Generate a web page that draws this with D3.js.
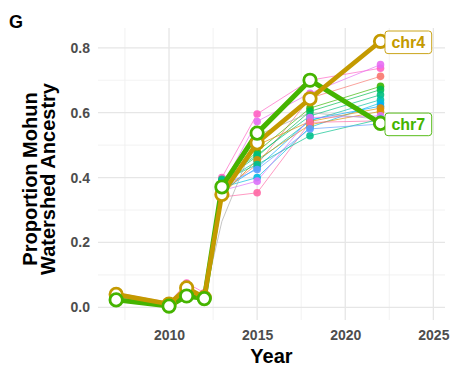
<!DOCTYPE html>
<html lang="en">
<head>
<meta charset="UTF-8">
<script src="https://cdnjs.cloudflare.com/ajax/libs/d3/7.8.5/d3.min.js"></script>
<style>
  body { margin: 0; background: #fff; }
  text { font-family: "Liberation Sans", Arial, Helvetica, sans-serif; }
</style>
</head>
<body>
<div id="chart"></div>
<script>
// sampling years
const years = [2007, 2010, 2011, 2012, 2013, 2015, 2018, 2022];

// highlighted chromosomes
const chr4 = [0.04, 0.01, 0.06, 0.03, 0.348, 0.507, 0.643, 0.82];
const chr7 = [0.023, 0.004, 0.035, 0.027, 0.371, 0.537, 0.70, 0.567];

// the other chromosomes (thin lines)
const otherColors = ['#FF61C3', '#E76BF3', '#F8766D', '#39B600', '#00BB4E', '#00BF7D', '#00C1A3', '#00BAE0',
  '#00A9FF', '#E58700', '#D89000', '#DC71FA', '#FF67A4', '#00C08B', '#619CFF', '#A8A8A8'];
const otherValues = [
  [0.045, 0.015, 0.075, 0.045, 0.40, 0.596, 0.70, 0.737],
  [0.035, 0.008, 0.04, 0.03, 0.37, 0.573, 0.66, 0.748],
  [0.04, 0.012, 0.05, 0.03, 0.36, 0.44, 0.645, 0.712],
  [0.03, 0.005, 0.035, 0.025, 0.38, 0.48, 0.614, 0.681],
  [0.025, 0.006, 0.03, 0.028, 0.39, 0.465, 0.604, 0.671],
  [0.03, 0.01, 0.03, 0.03, 0.395, 0.47, 0.59, 0.655],
  [0.028, 0.004, 0.028, 0.026, 0.385, 0.45, 0.575, 0.64],
  [0.03, 0.008, 0.032, 0.025, 0.37, 0.40, 0.555, 0.63],
  [0.035, 0.01, 0.04, 0.03, 0.36, 0.43, 0.578, 0.62],
  [0.04, 0.012, 0.05, 0.03, 0.35, 0.50, 0.573, 0.614],
  [0.038, 0.01, 0.045, 0.032, 0.345, 0.455, 0.563, 0.604],
  [0.03, 0.006, 0.035, 0.028, 0.36, 0.389, 0.585, 0.59],
  [0.04, 0.012, 0.06, 0.035, 0.34, 0.353, 0.57, 0.575],
  [0.03, 0.005, 0.03, 0.027, 0.39, 0.44, 0.529, 0.58],
  [0.025, 0.004, 0.03, 0.025, 0.375, 0.425, 0.55, 0.565],
  [0.03, 0.008, 0.03, 0.03, 0.265, 0.53, 0.60, 0.58]
];
// the grey line has no visible points
const otherShowPoints = otherColors.map((c, k) => k < otherColors.length - 1);

const xMajor = [2010, 2015, 2020, 2025];
const xMinor = [2007.5, 2012.5, 2017.5, 2022.5];
const yMajor = [0, 0.2, 0.4, 0.6, 0.8];
const yMinor = [0.1, 0.3, 0.5, 0.7];

const gold = '#C49A00';
const green = '#45B400';

const width = 468, height = 381;
const panel = { left: 98, right: 445, top: 28, bottom: 320 };

const x = d3.scaleLinear().domain([2005.97, 2025.66]).range([panel.left, panel.right]);
const y = d3.scaleLinear().domain([-0.039, 0.861]).range([panel.bottom, panel.top]);

const svg = d3.select('#chart').append('svg')
  .attr('width', width)
  .attr('height', height);

// grid
const grid = svg.append('g');
grid.selectAll('.xmin').data(xMinor).enter().append('line')
  .attr('x1', d => x(d)).attr('x2', d => x(d))
  .attr('y1', panel.top).attr('y2', panel.bottom)
  .attr('stroke', '#EFEFEF').attr('stroke-width', 0.8);
grid.selectAll('.ymin').data(yMinor).enter().append('line')
  .attr('x1', panel.left).attr('x2', panel.right)
  .attr('y1', d => y(d)).attr('y2', d => y(d))
  .attr('stroke', '#EFEFEF').attr('stroke-width', 0.8);
grid.selectAll('.xmaj').data(xMajor).enter().append('line')
  .attr('x1', d => x(d)).attr('x2', d => x(d))
  .attr('y1', panel.top).attr('y2', panel.bottom)
  .attr('stroke', '#E6E6E6').attr('stroke-width', 1.3);
grid.selectAll('.ymaj').data(yMajor).enter().append('line')
  .attr('x1', panel.left).attr('x2', panel.right)
  .attr('y1', d => y(d)).attr('y2', d => y(d))
  .attr('stroke', '#E6E6E6').attr('stroke-width', 1.3);

// axes (text only, theme_minimal style)
const xAxis = svg.append('g')
  .attr('transform', `translate(0,${panel.bottom})`)
  .call(d3.axisBottom(x).tickValues(xMajor).tickFormat(d3.format('d')).tickSize(0).tickPadding(10));
const yAxis = svg.append('g')
  .attr('transform', `translate(${panel.left},0)`)
  .call(d3.axisLeft(y).tickValues(yMajor).tickFormat(d3.format('.1f')).tickSize(0).tickPadding(8));
[xAxis, yAxis].forEach(a => {
  a.select('.domain').remove();
  a.selectAll('text')
    .style('font-family', '"Liberation Sans", Arial, sans-serif')
    .style('font-size', '14px')
    .style('font-weight', 'bold')
    .attr('fill', '#4D4D4D');
});

const line = d3.line().x((d, i) => x(years[i])).y(d => y(d));

// thin lines for other chromosomes
otherValues.forEach((vals, k) => {
  svg.append('path')
    .datum(vals)
    .attr('d', line)
    .attr('fill', 'none')
    .attr('stroke', otherColors[k])
    .attr('stroke-width', 0.9)
    .attr('opacity', 0.75);
});
otherValues.forEach((vals, k) => {
  if (!otherShowPoints[k]) return;
  svg.append('g').selectAll('circle')
    .data(vals)
    .enter()
    .append('circle')
    .attr('cx', (d, i) => x(years[i]))
    .attr('cy', d => y(d))
    .attr('r', 3.8)
    .attr('fill', otherColors[k])
    .attr('opacity', 0.9);
});

// highlighted lines
svg.append('path').datum(chr7).attr('d', line)
  .attr('fill', 'none').attr('stroke', green).attr('stroke-width', 5).attr('stroke-linejoin', 'round');
svg.append('path').datum(chr4).attr('d', line)
  .attr('fill', 'none').attr('stroke', gold).attr('stroke-width', 4.6).attr('stroke-linejoin', 'round');

[[chr4, gold], [chr7, green]].forEach(([vals, col]) => {
  svg.append('g').selectAll('circle')
    .data(vals)
    .enter()
    .append('circle')
    .attr('cx', (d, i) => x(years[i]))
    .attr('cy', d => y(d))
    .attr('r', 6.2)
    .attr('fill', '#fff')
    .attr('stroke', col)
    .attr('stroke-width', 2.8);
});

// end labels
[['chr4', chr4, gold], ['chr7', chr7, green]].forEach(([name, vals, col]) => {
  const last = vals.length - 1;
  const lx = x(years[last]) + 4.5;
  const ly = y(vals[last]) + 1;
  const g = svg.append('g').attr('transform', `translate(${lx},${ly})`);
  g.append('rect')
    .attr('x', 0).attr('y', -11.3)
    .attr('width', 46.7).attr('height', 22.6)
    .attr('rx', 3).attr('ry', 3)
    .attr('fill', '#fff')
    .attr('stroke', col)
    .attr('stroke-width', 0.9);
  g.append('text')
    .attr('x', 23.3).attr('y', 5.8)
    .attr('text-anchor', 'middle')
    .style('font-size', '16px')
    .style('font-weight', 'bold')
    .attr('fill', col)
    .text(name);
});

// titles
svg.append('text')
  .attr('x', (panel.left + panel.right) / 2)
  .attr('y', 363)
  .attr('text-anchor', 'middle')
  .style('font-size', '20px')
  .style('font-weight', 'bold')
  .attr('fill', '#000')
  .text('Year');

const yt = svg.append('text')
  .attr('transform', `translate(0,179) rotate(-90)`)
  .attr('text-anchor', 'middle')
  .style('font-size', '20px')
  .style('font-weight', 'bold')
  .attr('fill', '#000');
yt.append('tspan').attr('x', 0).attr('y', 37).text('Proportion Mohun');
yt.append('tspan').attr('x', 0).attr('y', 55).text('Watershed Ancestry');

svg.append('text')
  .attr('x', 9)
  .attr('y', 28)
  .style('font-size', '18px')
  .style('font-weight', 'bold')
  .attr('fill', '#000')
  .text('G');
</script>
</body>
</html>
